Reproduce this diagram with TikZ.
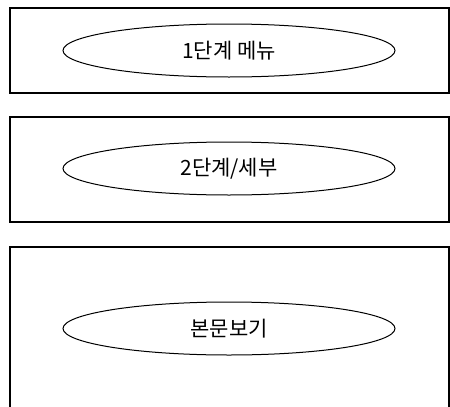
\documentclass[tikz,border=0pt]{standalone}
\usepackage{fontspec}
\newfontfamily\korfont{Noto Sans CJK KR}
\usetikzlibrary{shapes.geometric}
\tikzset{every picture/.style={line width=1pt}}

\begin{document}
\begin{tikzpicture}[x=1pt,y=-1pt,
		panel/.style={shape=rectangle, draw, minimum width=439pt, inner sep=0pt, line width=1.3pt},
		stage/.style={shape=ellipse, draw, minimum width=332pt, minimum height=53pt, inner sep=0pt,
			font=\korfont\fontsize{21}{21}\selectfont, color=black}
	]
	\clip (0,0) rectangle (450,407);
	\node[panel, minimum height=85pt] (box1) at (229.5,50.5) {};
	\node[panel, minimum height=105pt] (box2) at (229.5,169.5) {};
	\node[panel, minimum height=175pt] (box3) at (229.5,334.5) {};
	\node[stage] (menu) at (229,50.5) {1단계 메뉴};
	\node[stage] (detail) at (229,168.5) {2단계/세부};
	\node[stage] (body) at (229,328.5) {본문보기};
\end{tikzpicture}
\end{document}
